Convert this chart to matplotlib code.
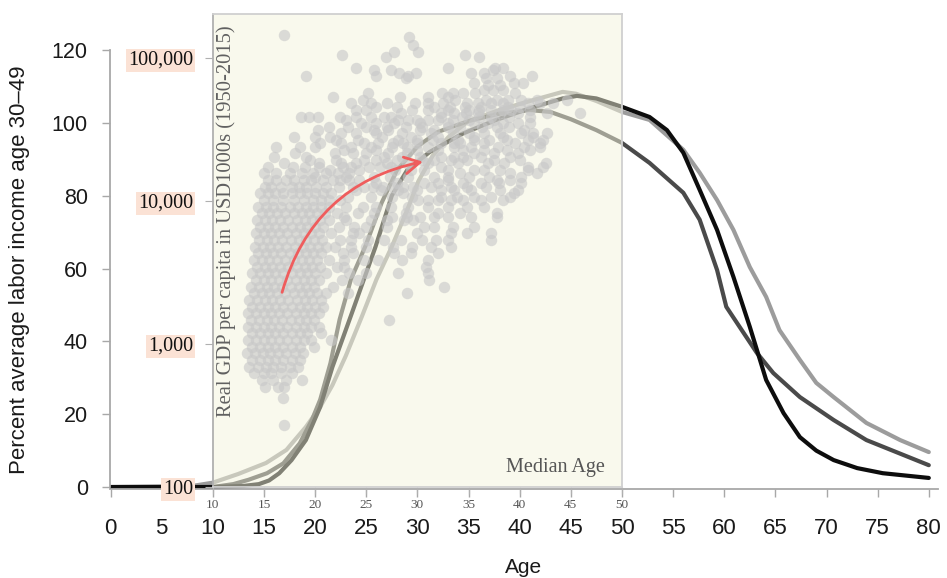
import matplotlib
matplotlib.use('Agg')
import matplotlib.pyplot as plt
from matplotlib.patches import FancyArrowPatch

plt.rcParams['font.family'] = 'Liberation Sans'

# labor income profiles, percent of average labor income age 30-49
black_age = [0, 10, 13, 14.5, 15.5, 16.5, 17.7, 19.1, 20.5, 21.7, 23.6, 25.9, 27.5, 29, 31.2, 34.4,
             37.7, 41, 44.2, 45.6, 47.5, 50, 52.7, 54.4, 56, 57.6, 59.3, 60.9, 62.5, 64.1, 65.8,
             67.4, 69, 70.7, 73, 75.5, 80]
black_val = [0, 0, 0.3, 0.8, 1.8, 3.8, 7.4, 12.9, 22, 33, 47.8, 65.9, 80, 87, 92, 97,
             100.8, 104, 106.7, 107.4, 106.7, 104.4, 101.6, 98, 91.8, 81.6, 70.6, 57.7, 44, 29.4, 20.3,
             13.7, 10, 7.4, 5.2, 3.8, 2.5]

dark_age = [0, 10, 12, 13.5, 15.3, 16.9, 18.5, 19.7, 20.5, 21.5, 22.4, 23.5, 24.9, 26.5, 28, 30,
            32, 35, 38, 41, 43, 45, 47.5, 50, 52.7, 56, 57.6, 59.3, 60.2, 61.9, 63.2, 64.8,
            67.4, 70.7, 73.9, 80]
dark_val = [0, 0, 0.8, 2, 3.8, 6.5, 12, 18.5, 24, 34, 46, 57, 66, 78, 87, 93.5,
            97.5, 100.5, 102.5, 103.5, 103, 101, 98, 94.5, 89, 80.8, 73.4, 59.6, 49.5, 42.3, 36.8, 31.3,
            24.7, 18.4, 12.9, 6]

light_age = [0, 8, 10, 12.5, 15.2, 17.2, 19.1, 20.5, 21.7, 23, 24.6, 26, 27.5, 29, 30.1, 31.5,
             33, 35, 38, 41, 44.2, 45.5, 47.5, 50, 52.7, 56, 57.6, 59.3, 60.9, 62.5, 64.1, 65.4,
             67.4, 69, 70.7, 73.9, 77.2, 80]
light_val = [0, 0.3, 1.2, 3.6, 6.6, 10.2, 16.5, 22, 28, 36, 47, 57, 66, 76, 84, 91,
             96, 100.5, 103.5, 106, 108.5, 108, 106, 103, 100.8, 92.6, 86.3, 78.8, 70.6, 60.4, 52.2, 43.1,
             34.9, 28.6, 24.7, 17.6, 12.9, 9.6]

# real GDP per capita vs median age, grouped in rows of (gdp, [median ages])
cloud_rows = [
    (145000, [17.0]),
    (140000, [29.2]),
    (123000, [29.6]),
    (110000, [27.7, 30.1]),
    (105000, [22.6, 34.7]),
    (102000, [26.9, 36.0]),
    (85000, [24.0, 33.0, 37.6, 38.4]),
    (82000, [25.8, 27.4, 37.4]),
    (78500, [28.2, 29.9, 35.2, 36.5]),
    (75000, [19.1, 26.0, 29.1, 39.1, 41.2]),
    (72000, [28.9, 36.7, 37.8]),
    (67000, [35.5, 39.4, 40.3]),
    (65000, [36.9, 38.1]),
    (60000, [36.5, 37.4, 38.4]),
    (57000, [25.2, 32.4, 33.5, 34.5, 35.6, 39.5]),
    (53300, [21.8, 28.3, 31.0, 33.0]),
    (50800, [24.7, 33.7, 36.7, 37.8, 38.9, 40.1, 41.7, 44.6]),
    (48400, [23.5, 25.5, 27.0, 29.8, 31.0, 32.5, 34.9, 35.9, 37.2, 38.4, 40.8, 42.0, 43.3]),
    (45400, [26.0, 28.0, 31.6, 33.2, 34.7, 36.2, 38.9, 40.0]),
    (43200, [24.0, 25.0, 29.5, 31.0, 33.0, 35.0, 36.0, 37.2, 38.4, 39.2, 41.0]),
    (41200, [28.4, 32.3, 33.6, 34.8, 35.9, 38.1, 39.8, 42.7, 45.9]),
    (38600, [18.6, 19.4, 20.3, 22.4, 24.0, 25.5, 26.7, 27.4, 32.3, 34.4, 36.0, 37.2, 39.0, 41.0]),
    (36800, [23.0, 28.1, 29.1, 30.0, 31.0, 32.0, 33.5, 35.0, 37.5]),
    (35100, [24.5, 26.0, 27.7, 30.3, 33.0, 35.5, 36.9, 38.4, 39.8, 41.0]),
    (32900, [21.4, 23.2, 25.0, 27.0, 28.9, 30.5, 33.0, 34.2, 36.3, 37.8, 39.0]),
    (31400, [20.3, 25.8, 27.1, 30.3, 31.6, 40.4]),
    (29900, [22.5, 24.0, 26.0, 28.5, 31.3, 33.5, 35.0, 36.5, 38.1, 40.1, 41.3, 42.7]),
    (28000, [17.9, 20.0, 21.5, 26.5, 29.4, 32.0, 35.5, 38.4, 41.3]),
    (26700, [22.0, 24.2, 28.1, 30.0, 31.5, 34.0, 35.5, 37.0, 38.8, 40.8, 42.3]),
    (25500, [20.5, 22.5, 24.8, 26.2, 27.6, 28.6, 30.0, 32.3, 33.6, 34.2, 36.5, 39.5, 42.0]),
    (23900, [16.2, 18.5, 20.0, 23.5, 25.5, 27.5, 29.0, 31.0, 33.6, 35.2, 37.9, 40.4, 42.0]),
    (22800, [22.8, 26.0, 30.0, 32.0, 34.5, 36.5, 38.8, 41.0]),
    (21700, [18.0, 21.9, 23.7, 25.0, 27.1, 29.0, 35.5, 37.5, 39.8]),
    (20300, [16.0, 19.1, 26.7, 28.5, 30.3, 32.3, 33.6, 34.5, 36.2, 39.1]),
    (19400, [19.5, 22.0, 24.8, 26.0, 28.0, 30.5, 31.6, 33.3, 34.9, 37.5, 40.0]),
    (18400, [17.0, 20.4, 22.5, 24.0, 27.0, 29.0, 31.0, 34.0, 36.9, 38.5, 42.6]),
    (17300, [15.4, 17.8, 19.0, 20.4, 22.7, 23.5, 25.3, 26.3, 27.4, 32.3, 40.8, 42.3]),
    (16500, [21.5, 24.3, 27.8, 29.4, 30.6, 33.0, 35.5, 36.5, 38.1, 40.8]),
    (15700, [15.0, 16.2, 17.5, 18.7, 19.8, 21.1, 22.2, 23.3, 34.2, 39.1, 41.7]),
    (14700, [20.0, 23.0, 25.8, 27.3, 29.1, 31.6, 33.0, 35.0, 37.0, 40.1]),
    (14000, [15.4, 16.2, 17.2, 17.9, 18.9, 19.6, 20.8, 21.8, 22.4, 23.3, 24.3, 33.0, 37.8, 39.1]),
    (13400, [26.0, 28.0, 30.6, 32.0, 34.5, 36.2, 38.0, 40.1]),
    (12500, [15.1, 15.7, 16.7, 17.7, 18.4, 19.1, 20.1, 21.1, 22.3, 23.7, 24.8, 25.7, 26.6, 27.6,
             28.6, 29.6, 31.3, 33.3, 34.9, 36.7]),
    (11900, [24.0, 26.4, 28.1, 30.0, 32.3, 33.6, 35.2, 38.1, 39.8]),
    (11400, [14.6, 15.4, 16.1, 16.9, 17.7, 18.5, 19.2, 20.0, 20.8, 21.6, 28.6, 39.4]),
    (10700, [23.2, 25.5, 27.5, 29.5, 32.3, 33.9, 35.5, 37.2, 39.1]),
    (10200, [15.0, 15.9, 16.9, 17.9, 18.9, 19.8, 20.6, 21.4, 22.4, 30.1, 31.0, 32.0, 33.3, 34.5,
             36.2, 38.4]),
    (9080, [14.4, 15.2, 15.9, 16.7, 17.5, 18.3, 19.1, 19.8, 20.6, 21.4, 23.0, 24.7, 26.0, 27.4,
            29.1, 31.0, 33.0, 34.9, 36.5]),
    (8240, [14.8, 15.5, 16.3, 17.1, 17.9, 18.7, 19.4, 20.2, 21.0, 22.1, 24.2, 25.8, 28.9, 32.0,
            34.2, 37.8]),
    (7730, [22.8, 27.5, 29.0, 30.3, 31.6, 33.0, 35.2, 37.8]),
    (7360, [14.3, 15.1, 15.8, 16.6, 17.4, 18.2, 19.0, 19.7, 20.5, 21.4, 23.0, 25.5, 27.0, 28.7, 29.6]),
    (6580, [14.6, 15.4, 16.1, 16.9, 17.7, 18.5, 19.2, 20.0, 20.8, 22.3, 23.8, 25.0, 27.0, 30.6,
            31.6, 33.5, 35.5]),
    (5970, [14.2, 15.0, 15.7, 16.5, 17.3, 18.1, 18.9, 19.6, 20.4, 21.6, 23.7, 24.3, 30.0, 33.3,
            34.9, 37.2]),
    (5330, [14.5, 15.3, 16.0, 16.8, 17.6, 18.4, 19.1, 19.9, 20.7, 22.4, 23.5, 25.2, 26.7, 28.4,
            30.5, 31.8, 33.0, 37.2]),
    (4770, [14.1, 14.9, 15.6, 16.4, 17.2, 18.0, 18.8, 19.5, 20.3, 21.1, 21.9, 23.5, 25.0, 27.6,
            29.5, 31.3, 33.3]),
    (4330, [14.4, 15.2, 15.9, 16.7, 17.5, 18.3, 19.1, 19.8, 20.6, 22.7, 23.7, 27.7, 29.4, 32.0]),
    (3870, [14.0, 14.8, 15.5, 16.3, 17.1, 17.9, 18.7, 19.4, 20.2, 21.4, 22.8, 24.8, 26.2, 28.5, 31.0]),
    (3450, [14.3, 15.1, 15.8, 16.6, 17.4, 18.2, 19.0, 19.7, 20.5, 22.1, 22.8, 30.8]),
    (3140, [13.8, 14.6, 15.4, 16.1, 16.9, 17.7, 18.5, 19.2, 20.0, 21.1, 23.3, 25.0, 28.1, 31.0]),
    (2800, [14.2, 15.0, 15.7, 16.5, 17.3, 18.1, 18.9, 19.6, 20.4, 22.6, 24.2, 31.1]),
    (2500, [13.7, 14.5, 15.3, 16.0, 16.8, 17.6, 18.4, 19.1, 19.9, 21.8, 32.6]),
    (2280, [14.0, 14.8, 15.5, 16.3, 17.1, 17.9, 18.7, 19.4, 20.2, 21.1, 23.2, 29.0]),
    (2030, [13.5, 14.3, 15.1, 15.8, 16.6, 17.4, 18.2, 19.0, 19.7, 20.6]),
    (1820, [13.8, 14.6, 15.4, 16.1, 16.9, 17.7, 18.5, 19.2, 20.0, 20.8]),
    (1650, [13.4, 14.2, 15.0, 15.7, 16.5, 17.3, 18.1, 18.9, 19.6, 20.4]),
    (1470, [13.7, 14.5, 15.3, 16.0, 16.8, 17.6, 18.4, 19.1, 19.9, 27.2]),
    (1320, [13.4, 14.2, 15.0, 15.7, 16.5, 17.3, 18.1, 18.9, 19.6, 20.4]),
    (1190, [13.8, 14.6, 15.4, 16.1, 16.9, 17.7, 18.5, 19.2, 20.6]),
    (1070, [13.4, 14.2, 15.0, 15.7, 16.5, 17.3, 18.1, 18.9, 19.6, 21.6]),
    (953, [13.8, 14.6, 15.4, 16.1, 16.9, 17.7, 18.5, 19.9]),
    (865, [13.3, 14.1, 14.9, 15.6, 16.4, 17.2, 18.0, 18.8]),
    (773, [13.8, 14.6, 15.4, 16.1, 16.9, 17.7, 18.5]),
    (690, [13.5, 14.4, 15.2, 15.9, 16.7, 17.5, 18.3]),
    (627, [14.0, 15.0, 15.7, 16.7, 17.7]),
    (560, [14.8, 15.9, 17.2, 18.7]),
    (500, [15.1, 16.4, 17.0]),
    (420, [16.9]),
    (272, [17.0]),
]
med_age = [a for g, ages in cloud_rows for a in ages]
gdp = [g for g, ages in cloud_rows for a in ages]

arrow_start = (16.7, 2200)
arrow_end = (30.8, 19000)

xticks = list(range(0, 81, 5))
yticks = [0, 20, 40, 60, 80, 100, 120]
inset_xticks = list(range(10, 51, 5))
gdp_ticks = [100, 1000, 10000, 100000]
gdp_labels = ['100', '1,000', '10,000', '100,000']

W, H = 947, 578
fig = plt.figure(figsize=(W / 100, H / 100), dpi=100)

# main axes
x0, x1 = -0.05, 80.9
ax = fig.add_axes([110 / W, 89.5 / H, 828 / W, 438.5 / H])
ax.set_xlim(x0, x1)
ax.set_ylim(-0.4, 120)
for age, val, col in [(light_age, light_val, '#9c9c9c'),
                      (dark_age, dark_val, '#4a4a4a'),
                      (black_age, black_val, '#0d0d0d')]:
    ax.plot(age, val, color=col, lw=3, solid_capstyle='round', solid_joinstyle='round', zorder=2)

for s in ['top', 'right']:
    ax.spines[s].set_visible(False)
for s in ['left', 'bottom']:
    ax.spines[s].set_color('#a8a8a8')
    ax.spines[s].set_linewidth(1.3)
ax.spines['left'].set_bounds(0, 120)
ax.set_xticks(xticks)
ax.set_yticks(yticks)
ax.tick_params(axis='y', direction='out', length=6, width=1, color='#a8a8a8',
               labelsize=15.5, pad=10, labelcolor='#1a1a1a')
ax.tick_params(axis='x', direction='out', length=6, width=1, color='#a8a8a8',
               labelsize=16, pad=15, labelcolor='#1a1a1a')
ax.set_ylabel('Percent average labor income age 30\u201349', fontsize=16, color='#1a1a1a')
ax.yaxis.set_label_coords(-0.097, 0.5)
ax.set_xlabel('Age', fontsize=15, color='#1a1a1a', va='center')
ax.xaxis.set_label_coords(0.5, -0.181)

# inset axes spanning ages 10-50 of the main axes
px_per_age = 828 / (x1 - x0)
left_px = 110 + (10 - x0) * px_per_age
ax_in = fig.add_axes([left_px / W, (H - 487) / H, 40 * px_per_age / W, 473 / H])
ax_in.patch.set_facecolor((0.96, 0.96, 0.865, 0.5))
ax_in.set_xlim(10, 50)
ax_in.set_yscale('log')
ax_in.set_ylim(100, 203000)
ax_in.scatter(med_age, gdp, s=68, color='#c8c8c8', alpha=0.62, linewidths=0, zorder=2)

arrow = FancyArrowPatch(arrow_start, arrow_end, connectionstyle='arc3,rad=-0.31',
                        arrowstyle='->,head_length=11,head_width=6', mutation_scale=1,
                        color='#ef5d5d', lw=2, zorder=4)
ax_in.add_patch(arrow)

ax_in.spines['left'].set_color('#b0b0b0')
for s in ['top', 'right', 'bottom']:
    ax_in.spines[s].set_color('#d0d0d0')
for s in ax_in.spines.values():
    s.set_linewidth(1.3)
ax_in.set_xticks(inset_xticks)
ax_in.set_xticklabels([str(t) for t in inset_xticks], family='Liberation Serif',
                      fontsize=9.5, color='#555555')
ax_in.tick_params(axis='x', length=5, color='#b0b0b0', pad=4)
ax_in.set_yticks(gdp_ticks)
ax_in.set_yticklabels(gdp_labels, family='Liberation Serif', fontsize=14.5, color='#111111')
ax_in.yaxis.set_minor_locator(matplotlib.ticker.NullLocator())
ax_in.tick_params(axis='y', length=6, color='#b0b0b0', pad=8)
for lbl in ax_in.get_yticklabels():
    lbl.set_bbox(dict(facecolor='#fbe2d5', edgecolor='none', pad=1.5))

ax_in.text(0.032, 0.977, 'Real GDP per capita in USD1000s (1950-2015)', transform=ax_in.transAxes,
           rotation=90, ha='center', va='top', family='Liberation Serif', fontsize=14.8,
           color='#606060')
ax_in.text(0.958, 0.032, 'Median Age', transform=ax_in.transAxes, ha='right', va='baseline',
           family='Liberation Serif', fontsize=14.5, color='#555555')

fig.savefig('out.png', dpi=100)
